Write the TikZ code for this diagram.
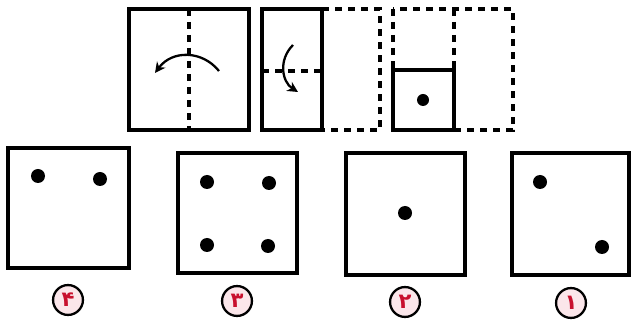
\documentclass[tikz,border=0pt]{standalone}
\usepackage{fontspec}
\usetikzlibrary{arrows.meta}
\TeXXeTstate=1
\newfontfamily\arabicfont[Script=Arabic]{DejaVu Sans}
\definecolor{optred}{HTML}{C8102E}
\definecolor{optbg}{HTML}{FBE6EA}
\tikzset{
  sheet/.style={line width=1.8pt, black},
  fold/.style={line width=1.9pt, black, dash pattern=on 4.2pt off 3.2pt},
  hole/.style={fill=black},
  turn/.style={line width=1.3pt, -{Stealth[length=6pt,width=6pt]}},
  choice/.style={circle, draw=black, line width=1.3pt, fill=optbg, text=optred,
    minimum size=17pt, inner sep=0pt, font=\arabicfont\bfseries\large}
}

\begin{document}
\begin{tikzpicture}[x=0.02cm, y=-0.02cm]
\useasboundingbox (0,0) rectangle (632,327);
% folding steps
\draw[sheet] (129,9) rectangle (249,130);
\draw[fold] (189,9) -- (189,130);
\draw[turn] (219,71) .. controls (202,50) and (172,50) .. (155,73);
\draw[sheet] (262,9) rectangle (322,130);
\draw[fold] (322,9) -- (380,9) -- (380,130) -- (322,130);
\draw[fold] (262,71) -- (322,71);
\draw[turn] (293,45) .. controls (278,60) and (282,82) .. (298,92);
\draw[fold] (393,9) rectangle (513,130);
\draw[fold] (454,9) -- (454,70);
\draw[sheet, fill=white] (393,70) rectangle (454,130);
\fill[hole] (423,100) circle (6);
% answer sheets
\draw[sheet] (8,148) rectangle (129,268);
\fill[hole] (38,176) circle (7);
\fill[hole] (100,179) circle (7);
\draw[sheet] (178,153) rectangle (297,273);
\fill[hole] (207,182) circle (7);
\fill[hole] (269,183) circle (7);
\fill[hole] (207,245) circle (7);
\fill[hole] (268,246) circle (7);
\draw[sheet] (346,153) rectangle (465,275);
\fill[hole] (405,213) circle (7);
\draw[sheet] (512,153) rectangle (629,275);
\fill[hole] (540,182) circle (7);
\fill[hole] (602,247) circle (7);
% option numbers
\node[choice] (opt4) at (68,300) {\beginR ۴\endR};
\node[choice] (opt3) at (237,301) {\beginR ۳\endR};
\node[choice] (opt2) at (405,302) {\beginR ۲\endR};
\node[choice] (opt1) at (571,303) {\beginR ۱\endR};
\end{tikzpicture}
\end{document}
